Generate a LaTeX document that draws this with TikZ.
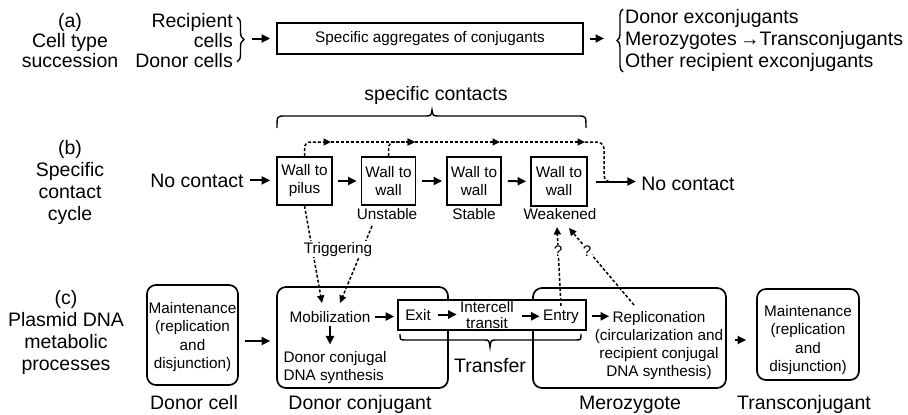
\documentclass[tikz,border=0pt]{standalone}
\usepackage{fontspec}
\setmainfont{Liberation Sans}
\usetikzlibrary{arrows.meta,calc,decorations.pathreplacing}
\begin{document}
\begin{tikzpicture}[x=1pt,y=-1pt,
  big/.style={font=\fontsize{19.5}{20}\selectfont},
  bigsp/.style={font=\fontsize{19.5}{22}\selectfont},
  small/.style={font=\fontsize{15.3}{18.3}\selectfont},
  sbox/.style={draw, line width=1.7pt, inner sep=0pt, align=center, font=\fontsize{15.3}{18}\selectfont},
  rbox/.style={draw, line width=1.7pt, rounded corners=9pt, inner sep=0pt},
  arr/.style={line width=2pt, -{Triangle[length=8.5pt,width=8pt]}},
  darr/.style={line width=1.5pt, dash pattern=on 3pt off 2pt, -{Triangle[length=7.5pt,width=7pt]}},
  dline/.style={line width=1.5pt, dash pattern=on 3pt off 2pt},
  bracepath/.style={line width=1.4pt}
]
\useasboundingbox (0,0) rectangle (908,415);

% ---------- (a) ----------
\node[big, align=center] (alab) at (70,41) {(a)\\Cell type\\succession};
\node[big, align=right, anchor=east, inner sep=0pt] (recip) at (233,41) {Recipient\\cells\\Donor cells};
\draw[bracepath, decorate, decoration={brace, amplitude=7pt}] (237,17) -- (237,62);
\coordinate (abr) at (252,38.5);
\node[sbox, minimum width=306pt, minimum height=31pt] (agg) at (430,38.5) {Specific aggregates of conjugants};
\coordinate (bbr) at (604,38.5);
\draw[arr, shorten >=6pt] (abr) -- (agg.west);
\draw[arr, shorten <=6pt] (agg.east) -- (bbr);
\draw[bracepath, decorate, decoration={brace, amplitude=6pt}] (623,72) -- (623,9);
\node[bigsp, align=left, anchor=west, inner sep=0pt] (outs) at (625,40) {Donor exconjugants\\Merozygotes\,→Transconjugants\\Other recipient exconjugants};

% ---------- (b) ----------
\node[big, align=center, font=\fontsize{19.5}{21.7}\selectfont] (blab) at (70,182.5) {(b)\\Specific\\contact\\cycle};
\node[big, anchor=base] (nc1) at (197,187) {No contact};
\node[sbox, minimum width=55pt, minimum height=48pt] (b1) at (304.5,181) {Wall to\\pilus};
\node[sbox, minimum width=54pt, minimum height=48pt] (b2) at (388.5,181) {Wall to\\wall};
\node[sbox, minimum width=54pt, minimum height=48pt] (b3) at (474,181) {Wall to\\wall};
\node[sbox, minimum width=56pt, minimum height=49pt] (b4) at (559,181.5) {Wall to\\wall};
\node[small, anchor=base] (l2) at (387,219.5) {Unstable};
\node[small, anchor=base] (l3) at (474,219.5) {Stable};
\node[small, anchor=base] (l4) at (560,219.5) {Weakened};
\node[big, anchor=base] (nc2) at (688,190) {No contact};

\draw[arr, shorten <=3pt, shorten >=6pt] (nc1.east) -- (nc1.east -| b1.west);
\draw[arr, shorten <=5pt, shorten >=4pt] (b1) -- (b2);
\draw[arr, shorten <=6pt, shorten >=4pt] (b2) -- (b3);
\draw[arr, shorten <=6pt, shorten >=4pt] (b3) -- (b4);
\draw[arr, shorten <=8pt, shorten >=2pt] (b4.east) -- (b4.east -| nc2.west);

% dashed loop
\coordinate (d1) at (331,142);
\coordinate (d2) at (415,142);
\coordinate (d3) at (500,142);
\coordinate (d4) at (585,142);
\coordinate (dk) at (604,182);
\coordinate (dj) at (616,182);
\draw[darr, rounded corners=6pt] (b1.north) |- (d1);
\draw[darr] (d1) -- (d2);
\draw[darr, rounded corners=6pt] (b2.north) |- (d2);
\draw[darr] (d2) -- (d3);
\draw[darr] (d3) -- (d4);
\draw[dline, rounded corners=7pt] (d4) -| (dk) -- (dj);

% brace: specific contacts
\draw[bracepath] (277,128) .. controls (277,116) .. (285,116) -- (425,116)
  .. controls (431,116) .. (432,110) .. controls (433,116) .. (439,116) -- (578,116)
  .. controls (586,116) .. (586,128);
\node[big, anchor=base] (sc) at (436,100) {specific contacts};

% ---------- (c) ----------
\node[big, align=center, font=\fontsize{19.5}{22}\selectfont] (clab) at (66,332) {(c)\\Plasmid DNA\\metabolic\\processes};

\node[rbox, minimum width=91pt, minimum height=100pt] (dcell) at (192.5,335) {};
\node[small, align=center] (dcellt) at (192.5,337) {Maintenance\\(replication\\and\\disjunction)};
\node[rbox, minimum width=171pt, minimum height=101pt] (dcon) at (362.5,337.5) {};
\node[rbox, minimum width=193pt, minimum height=100pt] (mero) at (629.5,338) {};
\node[rbox, minimum width=102pt, minimum height=91pt] (tcon) at (808,334.5) {};
\node[small, align=center] (tcont) at (808,340) {Maintenance\\(replication\\and\\disjunction)};

\node[draw, fill=white, line width=1.7pt, minimum width=188pt, minimum height=30pt, inner sep=0pt] (tbox) at (492,315) {};
\node[small, anchor=base] (exit) at (418,320) {Exit};
\node[small, align=center, font=\fontsize{15.3}{16}\selectfont] (ict) at (487,315) {Intercell\\transit};
\node[small, anchor=base] (entry) at (561,320) {Entry};

\node[small, anchor=base] (mob) at (330,322) {Mobilization};
\node[small, align=left, anchor=west] (dcs) at (280,367.3) {Donor conjugal\\DNA synthesis};
\node[small, anchor=base] (repl) at (659,322) {Repliconation};
\node[small, align=center] (replb) at (659,354.5) {(circularization and\\recipient conjugal\\DNA synthesis)};

\draw[arr, shorten <=6pt, shorten >=6pt] ([yshift=-6pt]dcell.east) -- ([yshift=-6pt]dcell.east -| dcon.west);
\draw[arr, shorten <=1pt, shorten >=3pt] (mob.east) -- (mob.east -| tbox.west);
\draw[arr, shorten >=3pt] (mob.south) -- (mob.south |- dcs.north);
\draw[arr, shorten <=4pt] (exit.east) -- (exit.east -| ict.west);
\draw[arr, shorten <=5pt] (ict.east |- entry.west) -- (entry.west);
\draw[arr, shorten <=10pt] (entry.east) -- (entry.east -| repl.west);
\draw[arr, shorten <=8pt, shorten >=10pt] ([yshift=-2pt]mero.east) -- ([yshift=-2pt]mero.east -| tcon.west);

% brace: transfer
\draw[bracepath] (400,334) .. controls (400,340) .. (406,340) -- (484,340)
  .. controls (489,340) .. (490,347) .. controls (491,340) .. (496,340) -- (575,340)
  .. controls (581,340) .. (581,334);
\node[big, anchor=base] (transfer) at (490,372) {Transfer};

% bottom labels
\node[big, anchor=base] (lbl1) at (194,409.5) {Donor cell};
\node[big, anchor=base] (lbl2) at (360,409.5) {Donor conjugant};
\node[big, anchor=base] (lbl3) at (630,409.5) {Merozygote};
\node[big, anchor=base] (lbl4) at (804,409.5) {Transconjugant};

% dashed triggering
\coordinate (t1) at (322,303);
\coordinate (t2) at (340,303);
\coordinate (s2) at (372,226);
\draw[darr] (b1.south) -- (t1);
\draw[darr] (s2) -- (t2);
\node[small, anchor=base, fill=white, inner sep=1pt] (trig) at (338,253) {Triggering};

% dashed to weakened
\coordinate (w1) at (557,227);
\coordinate (w2) at (569,228);
\coordinate (q2s) at (634,305);
\draw[darr] (entry.north) -- (w1);
\draw[darr] (q2s) -- (w2);
\node[small, fill=white, inner sep=0.5pt] (q1) at (558,251) {?};
\node[small, fill=white, inner sep=0.5pt] (q2) at (587,251) {?};
\end{tikzpicture}
\end{document}
